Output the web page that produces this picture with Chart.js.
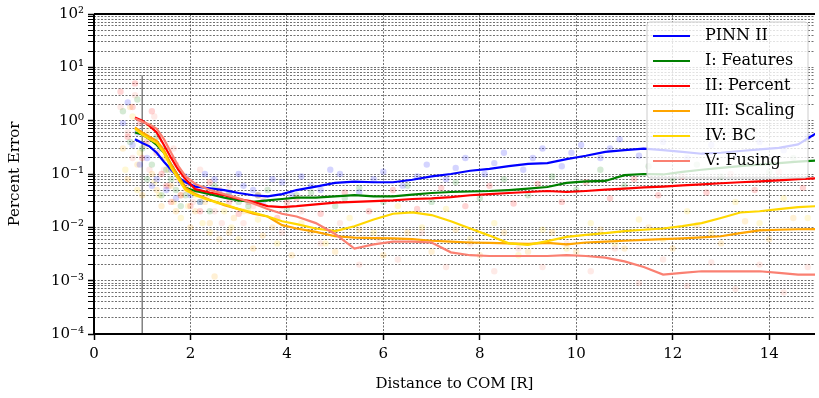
<!DOCTYPE html>
<html>
<head>
<meta charset="utf-8">
<script src="https://cdn.jsdelivr.net/npm/chart.js@4.4.0/dist/chart.umd.min.js"></script>
<style>
  html, body { margin: 0; padding: 0; background: #fff; }
  #wrap { width: 819px; height: 398px; }
</style>
</head>
<body>
<div id="wrap"><canvas id="errChart"></canvas></div>
<script>
// rolling error curves, sampled along distance to COM
const distance = [0.85, 1.0, 1.15, 1.3, 1.45, 1.6, 1.75, 1.9, 2.1, 2.4, 2.7, 3.0, 3.3, 3.6, 3.9, 4.2, 4.6, 5.0, 5.4, 5.8, 6.2, 6.6, 7.0, 7.4, 7.8, 8.2, 8.6, 9.0, 9.4, 9.8, 10.2, 10.6, 11.0, 11.4, 11.8, 12.2, 12.6, 13.0, 13.4, 13.8, 14.2, 14.6, 15.0];
const pinnII   = [0.45, 0.38, 0.33, 0.25, 0.17, 0.12, 0.085, 0.07, 0.058, 0.054, 0.05, 0.044, 0.04, 0.038, 0.042, 0.05, 0.058, 0.068, 0.072, 0.07, 0.07, 0.078, 0.09, 0.1, 0.115, 0.125, 0.14, 0.155, 0.16, 0.19, 0.22, 0.26, 0.28, 0.3, 0.28, 0.26, 0.24, 0.25, 0.27, 0.29, 0.31, 0.36, 0.6];
const features = [0.6, 0.55, 0.45, 0.35, 0.25, 0.15, 0.09, 0.055, 0.048, 0.042, 0.036, 0.032, 0.03, 0.032, 0.034, 0.036, 0.036, 0.038, 0.04, 0.038, 0.038, 0.041, 0.044, 0.046, 0.047, 0.048, 0.05, 0.053, 0.057, 0.068, 0.073, 0.074, 0.095, 0.1, 0.098, 0.11, 0.12, 0.13, 0.14, 0.15, 0.16, 0.17, 0.18];
const percent  = [1.15, 1.0, 0.8, 0.6, 0.35, 0.2, 0.12, 0.08, 0.052, 0.045, 0.04, 0.034, 0.03, 0.025, 0.024, 0.025, 0.027, 0.029, 0.03, 0.031, 0.032, 0.034, 0.035, 0.037, 0.04, 0.042, 0.044, 0.046, 0.048, 0.046, 0.048, 0.051, 0.053, 0.056, 0.058, 0.061, 0.064, 0.067, 0.07, 0.073, 0.076, 0.08, 0.083];
const scaling  = [0.75, 0.6, 0.5, 0.42, 0.28, 0.15, 0.09, 0.055, 0.042, 0.033, 0.026, 0.022, 0.018, 0.016, 0.011, 0.0095, 0.0082, 0.0068, 0.0064, 0.0063, 0.0062, 0.006, 0.0056, 0.0054, 0.0052, 0.0051, 0.005, 0.0049, 0.0051, 0.0048, 0.0052, 0.0054, 0.0056, 0.0058, 0.006, 0.0062, 0.0065, 0.0068, 0.0078, 0.0088, 0.009, 0.0092, 0.0093];
const bc       = [0.7, 0.55, 0.45, 0.38, 0.25, 0.13, 0.08, 0.05, 0.04, 0.032, 0.027, 0.022, 0.019, 0.016, 0.013, 0.0115, 0.0095, 0.0085, 0.0105, 0.014, 0.018, 0.019, 0.017, 0.013, 0.0095, 0.007, 0.005, 0.0047, 0.0055, 0.0066, 0.0072, 0.0078, 0.0085, 0.009, 0.0095, 0.0105, 0.012, 0.015, 0.019, 0.02, 0.022, 0.024, 0.025];
const fusing   = [1.1, 0.95, 0.85, 0.7, 0.45, 0.25, 0.14, 0.09, 0.065, 0.05, 0.042, 0.035, 0.028, 0.022, 0.018, 0.016, 0.012, 0.0075, 0.004, 0.0048, 0.0054, 0.0054, 0.0052, 0.0034, 0.003, 0.0029, 0.0029, 0.0029, 0.0029, 0.003, 0.0029, 0.0027, 0.0023, 0.0018, 0.0013, 0.0014, 0.0015, 0.0015, 0.0015, 0.0015, 0.0014, 0.0013, 0.0013];

// individual sample errors (faded dots), [distance, error]
const pinnIIDots   = [[0.6,0.9],[0.7,2.2],[0.8,0.35],[0.9,0.6],[0.95,0.15],[1.1,0.2],[1.2,0.06],[1.3,0.08],[1.4,0.3],[1.5,0.05],[1.6,0.12],[1.7,0.035],[1.8,0.07],[1.9,0.09],[2.0,0.04],[2.2,0.03],[2.3,0.1],[2.5,0.08],[2.6,0.045],[2.8,0.04],[3.0,0.1],[3.1,0.06],[3.3,0.05],[3.5,0.03],[3.7,0.08],[3.9,0.07],[4.1,0.04],[4.3,0.09],[4.5,0.06],[4.7,0.05],[4.9,0.12],[5.1,0.1],[5.5,0.045],[5.8,0.08],[6.0,0.11],[6.4,0.06],[6.7,0.09],[6.9,0.15],[7.3,0.08],[7.5,0.13],[7.7,0.2],[8.1,0.1],[8.3,0.16],[8.5,0.25],[8.9,0.12],[9.1,0.2],[9.3,0.3],[9.7,0.14],[9.9,0.25],[10.1,0.35],[10.5,0.2],[10.7,0.3],[10.9,0.45],[11.3,0.22],[11.8,0.4],[12.3,0.2],[12.8,0.35],[13.3,0.22],[13.8,0.4],[14.3,0.28],[14.8,0.5]];
const featuresDots = [[0.6,1.5],[0.75,0.4],[0.9,2.5],[1.0,0.3],[1.1,0.08],[1.2,0.15],[1.3,0.5],[1.4,0.04],[1.5,0.12],[1.6,0.08],[1.7,0.05],[1.8,0.025],[1.9,0.04],[2.1,0.05],[2.2,0.03],[2.4,0.02],[2.5,0.06],[2.8,0.045],[3.0,0.03],[3.2,0.025],[3.4,0.04],[3.6,0.05],[4.0,0.022],[4.2,0.04],[4.5,0.045],[5.0,0.025],[5.2,0.035],[5.5,0.055],[6.0,0.03],[6.5,0.06],[7.0,0.03],[7.5,0.07],[8.0,0.035],[8.5,0.08],[9.0,0.04],[9.5,0.09],[10.0,0.05],[10.5,0.12],[11.0,0.06],[11.5,0.14],[12.0,0.08],[12.5,0.15],[13.0,0.09],[13.5,0.17],[14.0,0.11],[14.5,0.2]];
const percentDots  = [[0.55,3.5],[0.7,0.5],[0.8,1.8],[0.85,5],[0.95,0.9],[1.0,0.2],[1.1,0.4],[1.2,1.5],[1.3,0.25],[1.4,0.1],[1.5,0.06],[1.6,0.03],[1.7,0.15],[1.8,0.04],[1.9,0.06],[2.0,0.025],[2.2,0.02],[2.4,0.07],[2.6,0.05],[2.8,0.03],[3.0,0.018],[3.2,0.03],[3.4,0.04],[3.8,0.015],[4.0,0.03],[4.2,0.035],[4.7,0.018],[5.2,0.045],[5.7,0.02],[6.2,0.05],[6.7,0.022],[7.2,0.055],[7.7,0.025],[8.2,0.06],[8.7,0.028],[9.2,0.065],[9.7,0.03],[10.2,0.07],[10.7,0.035],[11.2,0.08],[11.7,0.04],[12.2,0.09],[12.7,0.045],[13.2,0.1],[13.7,0.05],[14.2,0.11],[14.7,0.055]];
const scalingDots  = [[0.6,0.3],[0.7,0.08],[0.75,1.8],[0.9,0.15],[1.0,0.04],[1.1,0.6],[1.2,0.1],[1.3,0.05],[1.4,0.025],[1.5,0.2],[1.6,0.06],[1.7,0.02],[1.8,0.04],[2.0,0.01],[2.1,0.02],[2.3,0.03],[2.4,0.012],[2.5,0.0012],[2.6,0.006],[2.8,0.008],[2.9,0.015],[3.1,0.02],[3.3,0.004],[3.5,0.007],[3.7,0.01],[4.1,0.003],[4.5,0.008],[5.0,0.0035],[5.5,0.009],[6.0,0.003],[6.5,0.008],[7.0,0.0035],[7.5,0.009],[8.0,0.003],[8.5,0.008],[9.0,0.0035],[9.5,0.008],[10.0,0.0035],[10.5,0.009],[11.0,0.004],[11.5,0.01],[12.0,0.004],[12.5,0.011],[13.0,0.005],[13.5,0.013],[14.0,0.006],[14.5,0.015]];
const bcDots       = [[0.65,0.12],[0.8,1.2],[0.9,0.05],[0.95,0.25],[1.05,0.5],[1.15,0.8],[1.25,0.07],[1.35,0.04],[1.45,0.2],[1.55,0.12],[1.65,0.03],[1.8,0.015],[1.95,0.025],[2.1,0.04],[2.25,0.012],[2.4,0.008],[2.55,0.03],[2.7,0.02],[2.85,0.01],[3.0,0.006],[3.2,0.02],[3.4,0.014],[3.8,0.005],[4.3,0.012],[4.8,0.005],[5.3,0.015],[5.8,0.008],[6.3,0.025],[6.8,0.01],[7.3,0.022],[7.8,0.006],[8.3,0.012],[8.8,0.003],[9.3,0.009],[9.8,0.004],[10.3,0.012],[10.8,0.005],[11.3,0.014],[11.8,0.006],[12.3,0.02],[12.8,0.008],[13.3,0.03],[13.8,0.012],[14.3,0.035],[14.8,0.015]];
const fusingDots   = [[0.55,1.8],[0.7,0.6],[0.8,0.2],[0.85,3],[1.05,0.35],[1.15,0.12],[1.25,1.2],[1.35,0.5],[1.45,0.12],[1.55,0.06],[1.65,0.3],[1.75,0.08],[1.9,0.05],[2.05,0.03],[2.2,0.12],[2.35,0.04],[2.5,0.02],[2.65,0.012],[2.8,0.06],[3.1,0.012],[3.3,0.025],[3.5,0.035],[3.9,0.008],[4.3,0.02],[4.7,0.005],[5.1,0.012],[5.5,0.002],[5.9,0.006],[6.3,0.0025],[6.8,0.008],[7.3,0.0018],[7.8,0.005],[8.3,0.0015],[8.8,0.004],[9.3,0.0018],[9.8,0.005],[10.3,0.0015],[10.8,0.004],[11.3,0.0009],[11.8,0.0025],[12.3,0.0008],[12.8,0.0022],[13.3,0.0007],[13.8,0.002],[14.3,0.0006],[14.8,0.0018]];

// vertical marker at the body radius
const radiusLineX = [1, 1];
const radiusLineY = [1e-4, 7];

const seriesLabels = ['PINN II', 'I: Features', 'II: Percent', 'III: Scaling', 'IV: BC', 'V: Fusing'];
const seriesColors = ['#0000ff', '#008000', '#ff0000', '#ffa500', '#ffd700', '#fa8072'];
const seriesValues = [pinnII, features, percent, scaling, bc, fusing];
const seriesDots = [pinnIIDots, featuresDots, percentDots, scalingDots, bcDots, fusingDots];

const xTickValues = [0, 2, 4, 6, 8, 10, 12, 14];
const decades = [1e-4, 1e-3, 1e-2, 1e-1, 1e0, 1e1, 1e2];
const decadeLabels = ['10⁻⁴', '10⁻³', '10⁻²', '10⁻¹', '10⁰', '10¹', '10²'];

const serif = "'DejaVu Serif', serif";

function fade(hex, a) {
    const n = parseInt(hex.slice(1), 16);
    return `rgba(${(n >> 16) & 255}, ${(n >> 8) & 255}, ${n & 255}, ${a})`;
}

// every 1..9 x 10^n gets a grid line
const yGridValues = [];
decades.forEach((d, i) => {
    if (i === decades.length - 1) { yGridValues.push(d); return; }
    for (let m = 1; m <= 9; m++) yGridValues.push(m * d);
});

const datasets = [];
seriesLabels.forEach((label, i) => {
    datasets.push({
        label: label,
        inLegend: true,
        data: distance.map((x, j) => ({ x: x, y: seriesValues[i][j] })),
        borderColor: seriesColors[i],
        backgroundColor: seriesColors[i],
        borderWidth: 2.2,
        pointRadius: 0,
        tension: 0,
        order: 6 - i
    });
});
seriesLabels.forEach((label, i) => {
    datasets.push({
        label: label + ' samples',
        data: seriesDots[i].map(p => ({ x: p[0], y: p[1] })),
        showLine: false,
        pointRadius: 3.2,
        pointBorderWidth: 0,
        pointBackgroundColor: fade(seriesColors[i], 0.17),
        order: 10
    });
});
datasets.push({
    label: 'radius',
    data: radiusLineX.map((x, j) => ({ x: x, y: radiusLineY[j] })),
    borderColor: '#808080',
    borderWidth: 1.5,
    pointRadius: 0,
    order: 11
});

// spines (left, bottom, top)
const spines = {
    id: 'spines',
    afterDatasetsDraw(chart) {
        const { ctx, chartArea: a } = chart;
        ctx.save();
        ctx.strokeStyle = '#000';
        ctx.lineWidth = 2;
        ctx.beginPath();
        ctx.moveTo(a.left, a.top);
        ctx.lineTo(a.left, a.bottom);
        ctx.lineTo(a.right, a.bottom);
        ctx.moveTo(a.left, a.top);
        ctx.lineTo(a.right, a.top);
        ctx.stroke();
        ctx.restore();
    }
};

// matplotlib-style framed legend in the upper right
const legendBox = {
    id: 'legendBox',
    afterDraw(chart) {
        const { ctx, chartArea: a } = chart;
        const items = chart.data.datasets.filter(d => d.inLegend);
        const w = 161, rowH = 25;
        const h = items.length * rowH + 6;
        const x = a.right - w - 7, y = a.top + 8;
        ctx.save();
        ctx.beginPath();
        ctx.roundRect(x, y, w, h, 3);
        ctx.fillStyle = 'rgba(255,255,255,0.8)';
        ctx.fill();
        ctx.strokeStyle = '#cccccc';
        ctx.lineWidth = 1;
        ctx.stroke();
        ctx.font = `16px ${serif}`;
        ctx.textBaseline = 'middle';
        ctx.fillStyle = '#000';
        items.forEach((d, i) => {
            const cy = y + 14 + i * rowH;
            ctx.strokeStyle = d.borderColor;
            ctx.lineWidth = 2.2;
            ctx.beginPath();
            ctx.moveTo(x + 6, cy);
            ctx.lineTo(x + 43, cy);
            ctx.stroke();
            ctx.fillText(d.label, x + 58, cy);
        });
        ctx.restore();
    }
};

new Chart(document.getElementById('errChart'), {
    type: 'line',
    data: { datasets: datasets },
    options: {
        responsive: true,
        maintainAspectRatio: false,
        animation: false,
        devicePixelRatio: 1,
        layout: { padding: { top: 14, right: 0, left: 0, bottom: 0 } },
        plugins: { legend: { display: false }, tooltip: { enabled: false } },
        scales: {
            x: {
                type: 'linear',
                min: 0,
                max: 14.95,
                afterBuildTicks: s => { s.ticks = xTickValues.map(v => ({ value: v })); },
                afterFit: s => { s.height = 64; },
                ticks: { color: '#000', font: { family: serif, size: 15 }, maxRotation: 0, padding: 5 },
                grid: { color: 'rgba(30,30,30,0.8)', lineWidth: 0.8, drawTicks: true, tickLength: 6, tickColor: '#000', tickWidth: 1.5, tickBorderDash: [] },
                border: { display: false, dash: [2, 1.5] },
                title: { display: true, text: 'Distance to COM [R]', color: '#000', font: { family: serif, size: 15 }, padding: { top: 0, bottom: 5 } }
            },
            y: {
                type: 'logarithmic',
                min: 1e-4,
                max: 1e2,
                afterBuildTicks: s => { s.ticks = yGridValues.map(v => ({ value: v })); },
                afterFit: s => { s.width = 94; },
                ticks: {
                    autoSkip: false,
                    color: '#000',
                    font: { family: serif, size: 15 },
                    padding: 4,
                    callback: v => {
                        const i = decades.findIndex(d => Math.abs(Math.log10(v) - Math.log10(d)) < 1e-6);
                        return i >= 0 ? decadeLabels[i] : '';
                    }
                },
                grid: {
                    color: 'rgba(30,30,30,0.8)',
                    lineWidth: 0.8,
                    drawTicks: true,
                    tickLength: 6,
                    tickColor: '#000',
                    tickWidth: c => (decades.some(d => Math.abs(c.tick.value / d - 1) < 1e-6) ? 1.5 : 1),
                    tickBorderDash: []
                },
                border: { display: false, dash: [2, 1.5] },
                title: { display: true, text: 'Percent Error', color: '#000', font: { family: serif, size: 15 }, padding: { top: 6, bottom: 4 } }
            }
        }
    },
    plugins: [spines, legendBox]
});
</script>
</body>
</html>
